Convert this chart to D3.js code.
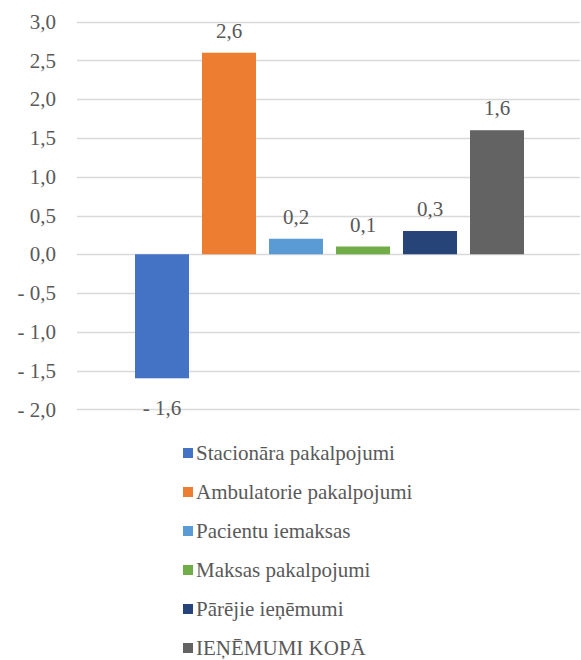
<!DOCTYPE html>
<html>
<head>
<meta charset="utf-8">
<script src="https://cdn.jsdelivr.net/npm/d3@7"></script>
</head>
<body style="margin:0">
<script>
var seriesNames = ["Stacionāra pakalpojumi", "Ambulatorie pakalpojumi", "Pacientu iemaksas",
  "Maksas pakalpojumi", "Pārējie ieņēmumi", "IEŅĒMUMI KOPĀ"];
var seriesValues = [-1.6, 2.6, 0.2, 0.1, 0.3, 1.6];
var seriesColors = ["#4472C4", "#ED7D31", "#5B9BD5", "#70AD47", "#264478", "#636363"];
var yTicks = [-2.0, -1.5, -1.0, -0.5, 0.0, 0.5, 1.0, 1.5, 2.0, 2.5, 3.0];

var w = 581, h = 660;
var plotLeft = 77, plotRight = 580;
var fontFam = "'Liberation Serif'";
var fontSize = 21;
var svg = d3.select("body").append("svg").attr("width", w).attr("height", h);

function fmt(v) {
    var s = Math.abs(v).toFixed(1).replace(".", ",");
    return v < 0 ? "- " + s : s;
}

function serif(sel) {
    sel.style("font-family", fontFam, "important").style("font-size", fontSize + "px").attr("fill", "#595959");
}

var y = d3.scaleLinear().domain([-2, 3]).range([409.3, 21.7]);
var x = d3.scaleBand().domain(seriesNames).range([128.5, 530.5]).paddingInner(13 / 67).paddingOuter(0.5 * 13 / 67);

// gridlines
svg.append("g").selectAll("line").data(yTicks).enter().append("line")
    .attr("x1", plotLeft).attr("x2", plotRight)
    .attr("y1", function (d) { return Math.round(y(d)) + 0.5; })
    .attr("y2", function (d) { return Math.round(y(d)) + 0.5; })
    .attr("stroke", "#D9D9D9").attr("stroke-width", 1.3);

// y axis labels
var yAxis = d3.axisLeft(y).tickValues(yTicks).tickFormat(fmt).tickSize(0).tickPadding(0);
var ag = svg.append("g").attr("transform", "translate(56,0)").call(yAxis);
ag.attr("font-family", null).attr("font-size", null);
ag.select(".domain").remove();
ag.selectAll("text").call(serif);

// bars
svg.append("g").selectAll("rect").data(seriesValues).enter().append("rect")
    .attr("x", function (d, i) { return x(seriesNames[i]); })
    .attr("width", x.bandwidth())
    .attr("y", function (d) { return y(Math.max(0, d)); })
    .attr("height", function (d) { return Math.abs(y(d) - y(0)); })
    .attr("fill", function (d, i) { return seriesColors[i]; });

// value labels
svg.append("g").selectAll("text").data(seriesValues).enter().append("text")
    .attr("x", function (d, i) { return x(seriesNames[i]) + x.bandwidth() / 2; })
    .attr("y", function (d) { return d >= 0 ? y(d) - 15 : y(d) + 37; })
    .attr("text-anchor", "middle")
    .call(serif)
    .text(fmt);

// legend
var lg = svg.append("g").selectAll("g").data(seriesNames).enter().append("g")
    .attr("transform", function (d, i) { return "translate(183," + (453 + i * 39) + ")"; });
lg.append("rect").attr("x", 0).attr("y", -5).attr("width", 10).attr("height", 10)
    .attr("fill", function (d, i) { return seriesColors[i]; });
lg.append("text").attr("x", 13).attr("y", 7)
    .call(serif)
    .text(function (d) { return d; });
</script>
</body>
</html>
